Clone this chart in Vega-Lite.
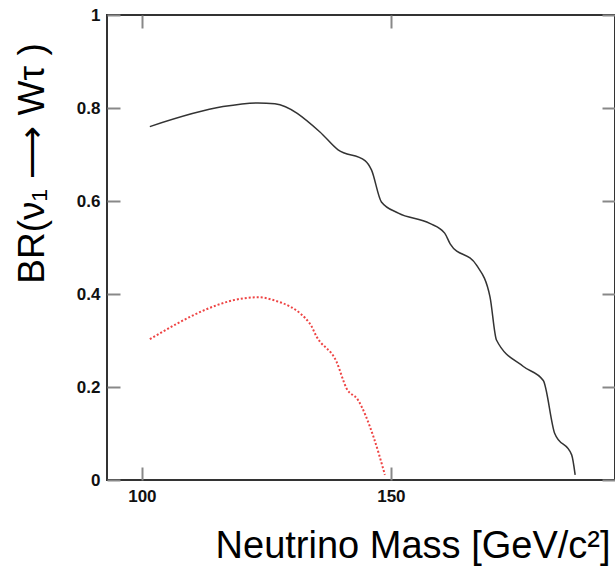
{
  "$schema": "https://vega.github.io/schema/vega-lite/v6.json",
  "width": 508,
  "height": 465,
  "autosize": {"type": "none"},
  "padding": {"left": 107, "top": 15, "right": 0, "bottom": 86},
  "background": "white",
  "datasets": {
    "mu": [
      {"mass": 101.6, "br": 0.760},
      {"mass": 116.3, "br": 0.803},
      {"mass": 123.3, "br": 0.811},
      {"mass": 126.7, "br": 0.809},
      {"mass": 135.7, "br": 0.749},
      {"mass": 139.4, "br": 0.710},
      {"mass": 144.8, "br": 0.687},
      {"mass": 146.1, "br": 0.667},
      {"mass": 148.1, "br": 0.598},
      {"mass": 151.5, "br": 0.574},
      {"mass": 157.8, "br": 0.552},
      {"mass": 160.8, "br": 0.531},
      {"mass": 161.9, "br": 0.508},
      {"mass": 167.2, "br": 0.462},
      {"mass": 169.9, "br": 0.394},
      {"mass": 171.2, "br": 0.301},
      {"mass": 176.6, "br": 0.244},
      {"mass": 180.6, "br": 0.214},
      {"mass": 182.9, "br": 0.100},
      {"mass": 186.3, "br": 0.054},
      {"mass": 187.0, "br": 0.011}
    ],
    "red": [
      {"mass": 101.6, "br": 0.303},
      {"mass": 123.3, "br": 0.393},
      {"mass": 126.4, "br": 0.387},
      {"mass": 133.7, "br": 0.337},
      {"mass": 135.1, "br": 0.308},
      {"mass": 139.1, "br": 0.254},
      {"mass": 141.1, "br": 0.197},
      {"mass": 143.4, "br": 0.172},
      {"mass": 146.5, "br": 0.093},
      {"mass": 148.8, "br": 0.011}
    ]
  },
  "layer": [
    {
      "data": {"name": "mu"},
      "mark": {"type": "line", "color": "#333333", "strokeWidth": 1.5, "interpolate": "monotone"},
      "encoding": {
        "x": {"field": "mass", "type": "quantitative", "scale": {"domain": [93, 195], "nice": false, "zero": false},
          "axis": {"orient": "bottom", "values": [100, 150], "title": "Neutrino Mass [GeV/c²]",
            "labelFontSize": 17, "labelPadding": 21,
            "titleX": 503, "titleY": 77, "titleAlign": "right", "titleBaseline": "alphabetic", "titleAnchor": null,
            "titleFontSize": 38, "titleFontWeight": "normal", "titleFont": "Liberation Sans", "titleColor": "#000"}},
        "y": {"field": "br", "type": "quantitative", "scale": {"domain": [0, 1], "nice": false},
          "axis": {"orient": "left", "values": [0, 0.2, 0.4, 0.6, 0.8, 1], "format": "~g", "title": "BR(ν₁ ⟶ Wτ )",
            "labelFontSize": 17, "labelPadding": 20,
            "titleX": -64, "titleY": 148, "titleAngle": -90, "titleAlign": "center", "titleBaseline": "alphabetic", "titleAnchor": null,
            "titleFontSize": 37, "titleFontWeight": "normal", "titleFont": "Liberation Sans", "titleColor": "#000"}}
      }
    },
    {
      "data": {"name": "red"},
      "mark": {"type": "line", "color": "#ee4444", "strokeWidth": 2, "strokeDash": [2, 2], "interpolate": "monotone"},
      "encoding": {
        "x": {"field": "mass", "type": "quantitative", "scale": {"domain": [93, 195], "nice": false, "zero": false},
          "axis": {"orient": "top", "values": [100, 150], "labels": false, "title": null}},
        "y": {"field": "br", "type": "quantitative", "scale": {"domain": [0, 1], "nice": false},
          "axis": {"orient": "right", "values": [0, 0.2, 0.4, 0.6, 0.8, 1], "labels": false, "title": null}}
      }
    }
  ],
  "resolve": {"axis": {"x": "independent", "y": "independent"}},
  "config": {
    "view": {"stroke": "#333333", "strokeWidth": 2},
    "axis": {
      "domain": false,
      "grid": false,
      "tickSize": -13,
      "tickWidth": 2,
      "tickColor": "#888888",
      "labelFont": "Liberation Sans",
      "labelFontWeight": "bold",
      "labelFontSize": 17,
      "labelColor": "#111111"
    }
  }
}
